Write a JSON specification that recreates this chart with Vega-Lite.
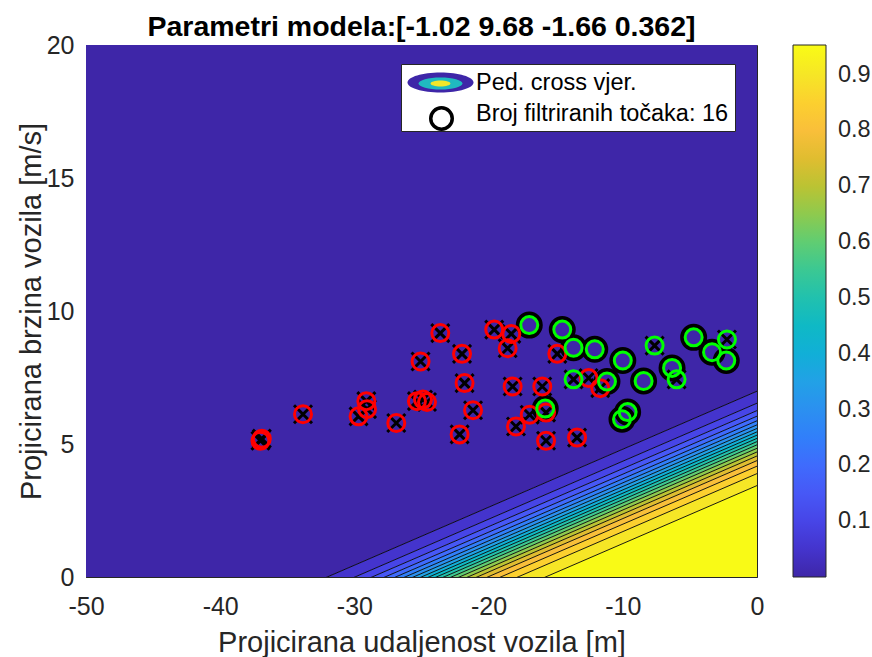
{
  "$schema": "https://vega.github.io/schema/vega-lite/v6.json",
  "width": 671,
  "height": 532,
  "autosize": {"type": "none"},
  "padding": {"left": 86, "top": 45, "right": 115, "bottom": 80},
  "background": "white",
  "title": {
    "text": "Parametri modela:[-1.02 9.68 -1.66 0.362]",
    "font": "Liberation Sans",
    "fontSize": 28.5,
    "fontWeight": "bold",
    "color": "black",
    "frame": "group",
    "anchor": "middle",
    "baseline": "alphabetic",
    "offset": -31
  },
  "datasets": {
    "bands": [
      {"lev": 0, "x": -50, "hi": 20, "lo": -3.919}, {"lev": 0, "x": 0, "hi": 20, "lo": 6.985},
      {"lev": 0.05, "x": -50, "hi": -3.919, "lo": -4.370}, {"lev": 0.05, "x": 0, "hi": 6.985, "lo": 6.534},
      {"lev": 0.1, "x": -50, "hi": -4.370, "lo": -4.648}, {"lev": 0.1, "x": 0, "hi": 6.534, "lo": 6.256},
      {"lev": 0.15, "x": -50, "hi": -4.648, "lo": -4.858}, {"lev": 0.15, "x": 0, "hi": 6.256, "lo": 6.046},
      {"lev": 0.2, "x": -50, "hi": -4.858, "lo": -5.031}, {"lev": 0.2, "x": 0, "hi": 6.046, "lo": 5.873},
      {"lev": 0.25, "x": -50, "hi": -5.031, "lo": -5.183}, {"lev": 0.25, "x": 0, "hi": 5.873, "lo": 5.721},
      {"lev": 0.3, "x": -50, "hi": -5.183, "lo": -5.320}, {"lev": 0.3, "x": 0, "hi": 5.721, "lo": 5.584},
      {"lev": 0.35, "x": -50, "hi": -5.320, "lo": -5.449}, {"lev": 0.35, "x": 0, "hi": 5.584, "lo": 5.455},
      {"lev": 0.4, "x": -50, "hi": -5.449, "lo": -5.572}, {"lev": 0.4, "x": 0, "hi": 5.455, "lo": 5.332},
      {"lev": 0.45, "x": -50, "hi": -5.572, "lo": -5.693}, {"lev": 0.45, "x": 0, "hi": 5.332, "lo": 5.211},
      {"lev": 0.5, "x": -50, "hi": -5.693, "lo": -5.814}, {"lev": 0.5, "x": 0, "hi": 5.211, "lo": 5.090},
      {"lev": 0.55, "x": -50, "hi": -5.814, "lo": -5.937}, {"lev": 0.55, "x": 0, "hi": 5.090, "lo": 4.967},
      {"lev": 0.6, "x": -50, "hi": -5.937, "lo": -6.066}, {"lev": 0.6, "x": 0, "hi": 4.967, "lo": 4.838},
      {"lev": 0.65, "x": -50, "hi": -6.066, "lo": -6.204}, {"lev": 0.65, "x": 0, "hi": 4.838, "lo": 4.700},
      {"lev": 0.7, "x": -50, "hi": -6.204, "lo": -6.355}, {"lev": 0.7, "x": 0, "hi": 4.700, "lo": 4.549},
      {"lev": 0.75, "x": -50, "hi": -6.355, "lo": -6.528}, {"lev": 0.75, "x": 0, "hi": 4.549, "lo": 4.376},
      {"lev": 0.8, "x": -50, "hi": -6.528, "lo": -6.738}, {"lev": 0.8, "x": 0, "hi": 4.376, "lo": 4.166},
      {"lev": 0.85, "x": -50, "hi": -6.738, "lo": -7.017}, {"lev": 0.85, "x": 0, "hi": 4.166, "lo": 3.887},
      {"lev": 0.9, "x": -50, "hi": -7.017, "lo": -7.467}, {"lev": 0.9, "x": 0, "hi": 3.887, "lo": 3.437},
      {"lev": 0.95, "x": -50, "hi": -7.467, "lo": -12}, {"lev": 0.95, "x": 0, "hi": 3.437, "lo": -12}
    ],
    "pts": [
      {"x": -37.0, "v": 5.12, "c": "0", "f": 0},
      {"x": -36.9, "v": 5.2, "c": "0", "f": 0},
      {"x": -33.83, "v": 6.12, "c": "0", "f": 0},
      {"x": -29.11, "v": 6.61, "c": "0", "f": 0},
      {"x": -29.06, "v": 6.31, "c": "0", "f": 0},
      {"x": -29.69, "v": 6.04, "c": "0", "f": 0},
      {"x": -26.88, "v": 5.79, "c": "0", "f": 0},
      {"x": -25.07, "v": 8.1, "c": "0", "f": 0},
      {"x": -25.34, "v": 6.61, "c": "0", "f": 0},
      {"x": -24.89, "v": 6.67, "c": "0", "f": 0},
      {"x": -24.59, "v": 6.58, "c": "0", "f": 0},
      {"x": -23.6, "v": 9.17, "c": "0", "f": 0},
      {"x": -19.58, "v": 9.3, "c": "0", "f": 0},
      {"x": -18.31, "v": 9.14, "c": "0", "f": 0},
      {"x": -18.58, "v": 8.6, "c": "0", "f": 0},
      {"x": -14.88, "v": 8.39, "c": "0", "f": 0},
      {"x": -21.98, "v": 8.39, "c": "0", "f": 0},
      {"x": -21.79, "v": 7.29, "c": "0", "f": 0},
      {"x": -18.21, "v": 7.16, "c": "0", "f": 0},
      {"x": -16.0, "v": 7.16, "c": "0", "f": 0},
      {"x": -21.16, "v": 6.27, "c": "0", "f": 0},
      {"x": -22.16, "v": 5.36, "c": "0", "f": 0},
      {"x": -16.94, "v": 6.1, "c": "0", "f": 0},
      {"x": -15.72, "v": 6.18, "c": "0", "f": 0},
      {"x": -17.96, "v": 5.66, "c": "0", "f": 0},
      {"x": -15.72, "v": 5.12, "c": "0", "f": 0},
      {"x": -13.41, "v": 5.24, "c": "0", "f": 0},
      {"x": -12.55, "v": 7.48, "c": "0", "f": 0},
      {"x": -11.68, "v": 7.1, "c": "0", "f": 0},
      {"x": -13.67, "v": 7.43, "c": "1", "f": 0},
      {"x": -7.63, "v": 8.7, "c": "1", "f": 0},
      {"x": -5.99, "v": 7.43, "c": "1", "f": 0},
      {"x": -2.24, "v": 8.93, "c": "1", "f": 0},
      {"x": -16.97, "v": 9.47, "c": "1", "f": 1},
      {"x": -14.51, "v": 9.3, "c": "1", "f": 1},
      {"x": -13.67, "v": 8.62, "c": "1", "f": 1},
      {"x": -12.09, "v": 8.56, "c": "1", "f": 1},
      {"x": -15.78, "v": 6.33, "c": "1", "f": 1},
      {"x": -10.0, "v": 8.14, "c": "1", "f": 1},
      {"x": -11.18, "v": 7.35, "c": "1", "f": 1},
      {"x": -8.45, "v": 7.37, "c": "1", "f": 1},
      {"x": -6.33, "v": 7.86, "c": "1", "f": 1},
      {"x": -4.72, "v": 9.01, "c": "1", "f": 1},
      {"x": -3.35, "v": 8.45, "c": "1", "f": 1},
      {"x": -2.29, "v": 8.14, "c": "1", "f": 1},
      {"x": -9.64, "v": 6.2, "c": "1", "f": 1},
      {"x": -10.06, "v": 5.93, "c": "1", "f": 1}
    ]
  },
  "layer": [
    {
      "data": {"name": "bands"},
      "mark": {"type": "area", "clip": true, "interpolate": "linear"},
      "encoding": {
        "x": {
          "field": "x", "type": "quantitative",
          "scale": {"domain": [-50, 0], "nice": false, "zero": false},
          "axis": {"title": "Projicirana udaljenost vozila [m]", "values": [-50, -40, -30, -20, -10, 0], "labelExpr": "'' + datum.value"}
        },
        "y": {
          "field": "hi", "type": "quantitative",
          "scale": {"domain": [0, 20], "nice": false, "zero": false},
          "axis": {"title": "Projicirana brzina vozila [m/s]", "values": [0, 5, 10, 15, 20], "labelExpr": "'' + datum.value"}
        },
        "y2": {"field": "lo"},
        "detail": {"field": "lev"},
        "color": {
          "field": "lev", "type": "quantitative",
          "scale": {
            "domain": [0, 0.0605, 0.121, 0.1815, 0.242, 0.3025, 0.3631, 0.4236, 0.484, 0.5446, 0.6051, 0.6656, 0.7261, 0.7866, 0.8471, 0.9076, 0.953],
            "range": ["#3E26A8", "#4537D5", "#484DF0", "#4563FD", "#327CFC", "#2B91EF", "#20A5E3", "#08B5D0", "#19BFB6", "#37C897", "#64CD6F", "#9DC943", "#D1BF27", "#F8BA3D", "#FCCF30", "#F5E924", "#F9FB15"],
            "interpolate": "rgb"
          },
          "legend": {
            "type": "gradient", "direction": "vertical", "orient": "none",
            "legendX": 707, "legendY": 0,
            "gradientLength": 532, "gradientThickness": 33,
            "values": [0.1, 0.2, 0.3, 0.4, 0.5, 0.6, 0.7, 0.8, 0.9],
            "format": ".1f", "title": null,
            "labelFont": "Liberation Sans", "labelFontSize": 23.5, "labelColor": "#262626",
            "labelOffset": 12, "padding": 0, "labelOverlap": false,
            "gradientStrokeColor": "#262626", "gradientStrokeWidth": 1, "zindex": 1
          }
        }
      }
    },
    {
      "data": {"name": "bands"},
      "transform": [{"filter": "datum.lev > 0"}],
      "mark": {"type": "line", "clip": true, "color": "black", "strokeWidth": 0.9},
      "encoding": {
        "x": {"field": "x", "type": "quantitative"},
        "y": {"field": "hi", "type": "quantitative"},
        "detail": {"field": "lev"}
      }
    },
    {
      "data": {"name": "pts"},
      "transform": [{"filter": "datum.f == 0"}],
      "mark": {"type": "point", "shape": "M-1,-1L1,1M-1,1L1,-1", "filled": false, "color": "black", "strokeWidth": 3, "size": 324, "opacity": 1},
      "encoding": {
        "x": {"field": "x", "type": "quantitative"},
        "y": {"field": "v", "type": "quantitative"}
      }
    },
    {
      "data": {"name": "pts"},
      "transform": [{"filter": "datum.f == 1"}],
      "mark": {"type": "point", "shape": "circle", "filled": false, "color": "black", "strokeWidth": 5, "size": 484, "opacity": 1},
      "encoding": {
        "x": {"field": "x", "type": "quantitative"},
        "y": {"field": "v", "type": "quantitative"}
      }
    },
    {
      "data": {"name": "pts"},
      "mark": {"type": "point", "filled": false, "strokeWidth": 3, "size": 289, "opacity": 1},
      "encoding": {
        "x": {"field": "x", "type": "quantitative"},
        "y": {"field": "v", "type": "quantitative"},
        "stroke": {
          "field": "c", "type": "nominal",
          "scale": {"domain": ["0", "1"], "range": ["#FF0000", "#00FF00"]},
          "legend": null
        }
      }
    },
    {
      "data": {"values": []},
      "mark": {"type": "point", "filled": true, "fill": "#3E26A8", "stroke": "black", "strokeWidth": 1, "opacity": 1},
      "encoding": {
        "shape": {
          "datum": "Ped. cross vjer.",
          "type": "nominal",
          "scale": {
            "domain": ["Ped. cross vjer.", "Broj filtriranih točaka: 16"],
            "range": ["M-2.75,0A2.75,0.83 0 1,1 2.75,0A2.75,0.83 0 1,1 -2.75,0Z", "M0,0"]
          },
          "legend": {
            "title": null, "orient": "none", "legendX": 315, "legendY": 19,
            "direction": "vertical", "symbolSize": 576,
            "symbolFillColor": "#3E26A8", "symbolStrokeColor": "black", "symbolStrokeWidth": 1, "symbolOpacity": 1,
            "padding": 6, "rowPadding": 6, "symbolOffset": 21, "labelOffset": 23,
            "fillColor": "white", "strokeColor": "#262626",
            "labelFont": "Liberation Sans", "labelFontSize": 23.5, "labelColor": "black", "labelLimit": 500,
            "zindex": 1
          }
        }
      }
    },
    {
      "data": {"values": []},
      "mark": {"type": "point", "filled": true, "shape": "M-1.83,0A1.83,0.5 0 1,1 1.83,0A1.83,0.5 0 1,1 -1.83,0Z", "fill": "#20BAC0", "stroke": "black", "strokeWidth": 0.7},
      "encoding": {
        "opacity": {
          "datum": "Ped. cross vjer. ",
          "type": "nominal",
          "scale": {"type": "ordinal", "domain": ["Ped. cross vjer. "], "range": [1]},
          "legend": {
            "title": null, "orient": "none", "legendX": 342, "legendY": 26,
            "symbolType": "M-1.83,0A1.83,0.5 0 1,1 1.83,0A1.83,0.5 0 1,1 -1.83,0Z",
            "symbolSize": 576, "symbolFillColor": "#20BAC0", "symbolStrokeColor": "black", "symbolStrokeWidth": 0.7,
            "padding": 0, "symbolOffset": 0, "labelFontSize": 1, "labelOpacity": 0,
            "fillColor": "transparent", "strokeColor": "transparent", "zindex": 2
          }
        }
      }
    },
    {
      "data": {"values": []},
      "mark": {"type": "point", "filled": true, "shape": "M-0.83,0A0.83,0.25 0 1,1 0.83,0A0.83,0.25 0 1,1 -0.83,0Z", "fill": "#F3E72A", "stroke": "black", "strokeWidth": 0.8, "opacity": 1},
      "encoding": {
        "size": {
          "datum": "Ped. cross vjer.  ",
          "type": "nominal",
          "scale": {"type": "ordinal", "domain": ["Ped. cross vjer.  "], "range": [576]},
          "legend": {
            "title": null, "orient": "none", "legendX": 342, "legendY": 26,
            "symbolType": "M-0.83,0A0.83,0.25 0 1,1 0.83,0A0.83,0.25 0 1,1 -0.83,0Z",
            "symbolFillColor": "#F3E72A", "symbolStrokeColor": "black", "symbolStrokeWidth": 0.8, "symbolOpacity": 1,
            "padding": 0, "symbolOffset": 0, "labelFontSize": 1, "labelOpacity": 0,
            "fillColor": "transparent", "strokeColor": "transparent", "zindex": 3
          }
        }
      }
    },
    {
      "data": {"values": []},
      "mark": {"type": "point", "filled": false, "shape": "circle", "color": "black", "size": 462, "opacity": 1},
      "encoding": {
        "strokeWidth": {
          "datum": "Broj filtriranih točaka: 16 ",
          "type": "nominal",
          "scale": {"type": "ordinal", "domain": ["Broj filtriranih točaka: 16 "], "range": [3.5]},
          "legend": {
            "title": null, "orient": "none", "legendX": 343, "legendY": 61,
            "symbolType": "circle", "symbolSize": 462, "symbolStrokeColor": "black", "symbolFillColor": "transparent", "symbolOpacity": 1,
            "padding": 0, "symbolOffset": 0, "labelFontSize": 1, "labelOpacity": 0,
            "fillColor": "transparent", "strokeColor": "transparent", "zindex": 2
          }
        }
      }
    }
  ],
  "config": {
    "font": "Liberation Sans",
    "view": {"stroke": "#262626", "strokeWidth": 1},
    "axis": {
      "grid": false, "domain": false,
      "labelFont": "Liberation Sans", "labelFontSize": 25, "labelColor": "#262626",
      "tickColor": "#262626", "tickSize": -6, "tickWidth": 1,
      "labelFlush": false, "labelOverlap": false,
      "titleFont": "Liberation Sans", "titleFontSize": 29, "titleFontWeight": "normal", "titleColor": "#262626",
      "zindex": 1
    },
    "axisX": {"labelPadding": 23, "titleBaseline": "alphabetic", "titleY": 74},
    "axisY": {"labelPadding": 18, "titleBaseline": "alphabetic", "titleX": -46, "titleY": 266, "titleAngle": -90}
  }
}
